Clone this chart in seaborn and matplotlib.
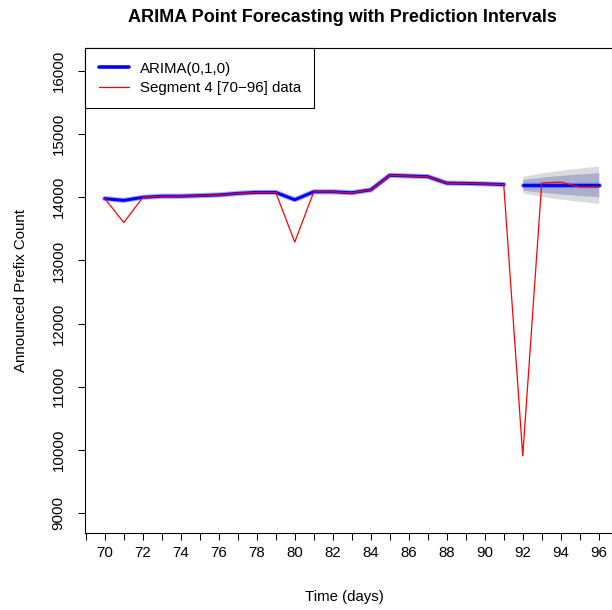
import numpy as np
import pandas as pd
import matplotlib
matplotlib.use("Agg")
import matplotlib.pyplot as plt
from matplotlib.ticker import MultipleLocator
import seaborn as sns

## DATA ##

days = list(range(70, 97))
# observed values, segment 4 (days 70-96)
observed = [13980, 13600, 13995, 14015, 14015, 14025, 14035, 14060, 14075, 14075,
            13290, 14085, 14085, 14070, 14115, 14345, 14335, 14325, 14222, 14218,
            14210, 14200, 9910, 14225, 14240, 14162, 14162]

fit_days = list(range(70, 92))
fitted = [13978, 13950, 13998, 14016, 14016, 14026, 14036, 14061, 14076, 14076,
          13960, 14086, 14086, 14071, 14116, 14346, 14336, 14326, 14223, 14219,
          14211, 14201]

fc_days = [92, 93, 94, 95, 96]
fc_mean = [14198, 14198, 14198, 14198, 14198]
lo80 = [14113, 14078, 14051, 14028, 14008]
hi80 = [14283, 14318, 14345, 14368, 14388]
lo95 = [14066, 14011, 13969, 13934, 13902]
hi95 = [14330, 14385, 14427, 14462, 14494]

#######

sns.set_style("white")
plt.rcParams['font.family'] = ['Liberation Sans', 'DejaVu Sans']
plt.rcParams['text.color'] = 'black'
plt.rcParams['axes.labelcolor'] = 'black'
plt.rcParams['xtick.color'] = 'black'
plt.rcParams['ytick.color'] = 'black'
fs = 10.8

df_obs = pd.DataFrame({"day": days, "count": observed})
df_fit = pd.DataFrame({"day": fit_days, "count": fitted})
df_fc = pd.DataFrame({"day": fc_days, "count": fc_mean})

fig = plt.figure(figsize=(6.12, 6.10), dpi=100)
ax = fig.add_axes([85 / 612, 1 - 533 / 610, 533.5 / 612, 485 / 610])

# prediction intervals
ax.fill_between(fc_days, lo95, hi95, color="#DBDBDF", lw=0, zorder=1)
ax.fill_between(fc_days, lo80, hi80, color="#AAAFCC", lw=0, zorder=2)

blue = "#0000FF"
# soft halo under the thick blue line
for d in (df_fit, df_fc):
    ax.plot(d["day"], d["count"], color=blue, lw=3.8, alpha=0.3,
            solid_capstyle="round", zorder=3)
sns.lineplot(data=df_fit, x="day", y="count", color=blue, lw=2.2,
             label="ARIMA(0,1,0)", ax=ax, zorder=4)
sns.lineplot(data=df_fc, x="day", y="count", color=blue, lw=2.2, ax=ax, zorder=4)
sns.lineplot(data=df_obs, x="day", y="count", color="#FF0000", lw=0.9,
             label="Segment 4 [70\u221296] data", ax=ax, zorder=5)

ax.set_xlim(68.96, 97.04)
ax.set_ylim(8690, 16360)
ax.xaxis.set_major_locator(MultipleLocator(2))
ax.xaxis.set_minor_locator(MultipleLocator(1))
ax.yaxis.set_major_locator(MultipleLocator(1000))
ax.tick_params(axis="x", which="both", direction="out", length=5, width=0.75,
               color="black", bottom=True, labelsize=fs, pad=4.5)
ax.tick_params(axis="y", which="major", direction="out", length=5, width=0.75,
               color="black", left=True, labelsize=fs, pad=9)
for lab in ax.get_yticklabels():
    lab.set_rotation(90)
    lab.set_va("center")
ax.set_xlabel("")
ax.set_ylabel("")
for s in ax.spines.values():
    s.set_color("black")
    s.set_linewidth(0.8)

leg = ax.legend(loc="upper left", bbox_to_anchor=(0, 1), borderaxespad=0,
                fontsize=fs, frameon=True, fancybox=False, handlelength=2.0,
                handletextpad=0.75, borderpad=0.9, labelspacing=0.35)
leg.get_frame().set_edgecolor("black")
leg.get_frame().set_linewidth(0.8)
leg.get_frame().set_alpha(1)
leg.get_lines()[0].set_linewidth(2.6)

fig.text(342 / 612, 1 - 17 / 610, "ARIMA Point Forecasting with Prediction Intervals",
         ha="center", va="center", fontsize=13, fontweight="bold")
fig.text(344 / 612, 1 - 597 / 610, "Time (days)", ha="center", va="center", fontsize=fs)
fig.text(21 / 612, 1 - 290 / 610, "Announced Prefix Count", ha="center", va="center",
         rotation=90, fontsize=fs)

fig.savefig("out.png", dpi=100)
